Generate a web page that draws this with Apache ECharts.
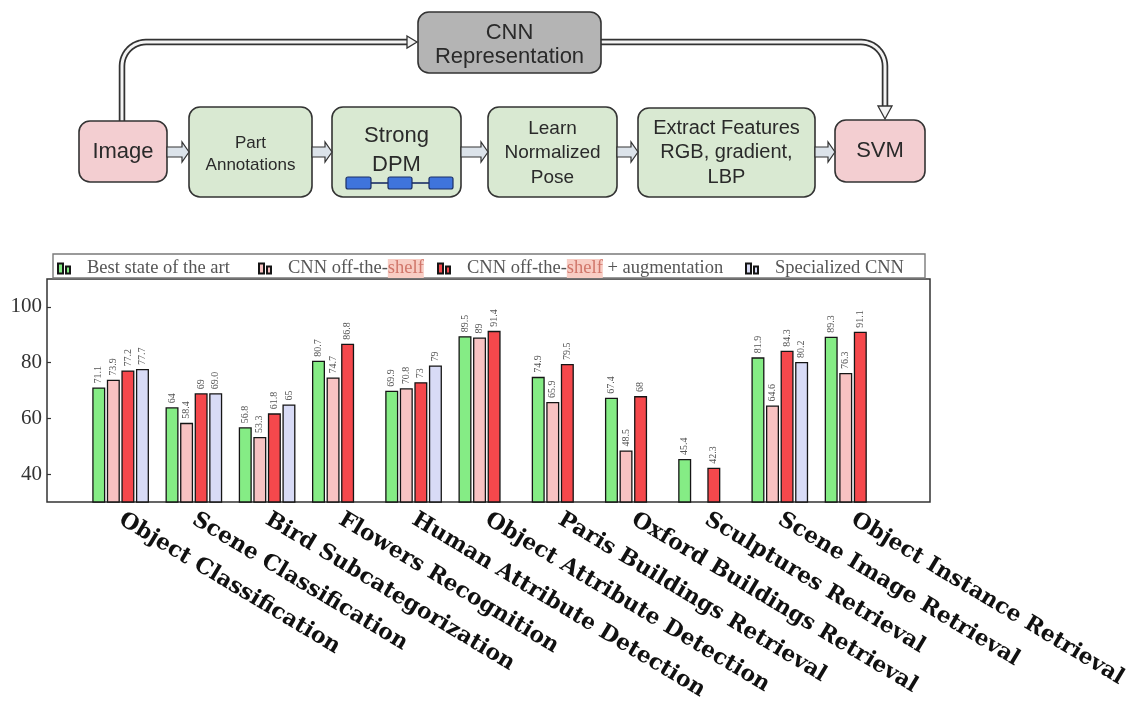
<!DOCTYPE html>
<html>
<head>
<meta charset="utf-8">
<script src="https://cdn.jsdelivr.net/npm/echarts@6/dist/echarts.min.js"></script>
<style>
html, body { margin: 0; padding: 0; background: #ffffff; }
#main { width: 1130px; height: 707px; }
</style>
</head>
<body>
<div id="main"></div>
<script>
// Tasks on the category axis
const categories = [
  'Object Classification', 'Scene Classification', 'Bird Subcategorization',
  'Flowers Recognition', 'Human Attribute Detection', 'Object Attribute Detection',
  'Paris Buildings Retrieval', 'Oxford Buildings Retrieval', 'Sculptures Retrieval',
  'Scene Image Retrieval', 'Object Instance Retrieval'
];

// Series names (legend order)
const seriesNames = [
  'Best state of the art', 'CNN off-the-shelf',
  'CNN off-the-shelf + augmentation', 'Specialized CNN'
];

// Scores per task, written as printed above each bar (null = no result)
const bestStateOfTheArt = ['71.1', '64', '56.8', '80.7', '69.9', '89.5', '74.9', '67.4', '45.4', '81.9', '89.3'];
const cnnOffTheShelf    = ['73.9', '58.4', '53.3', '74.7', '70.8', '89', '65.9', '48.5', null, '64.6', '76.3'];
const cnnAugmented      = ['77.2', '69', '61.8', '86.8', '73', '91.4', '79.5', '68', '42.3', '84.3', '91.1'];
const specializedCnn    = ['77.7', '69.0', '65', null, '79', null, null, null, null, '80.2', null];

// Value axis tick labels
const yTicks = [40, 60, 80, 100];

// Pipeline diagram captions
const pipelineSteps = ['Image', 'Part\nAnnotations', 'Strong\nDPM', 'Learn\nNormalized\nPose', 'Extract Features\nRGB, gradient,\nLBP', 'SVM'];
const shortcutStep = 'CNN\nRepresentation';

const seriesValues = [bestStateOfTheArt, cnnOffTheShelf, cnnAugmented, specializedCnn];
const seriesColors = ['#85ec85', '#f8c2c2', '#f5484c', '#d8dbf6'];

const chart = echarts.init(document.getElementById('main'), null, { renderer: 'canvas' });

// ---------- pipeline diagram (graphic elements) ----------
const INK = '#2a2a2a';
const SANS = '"Liberation Sans", Arial, sans-serif';
const SERIF = '"Liberation Serif", "DejaVu Serif", serif';
const boxStyle = (fill) => ({ fill: fill, stroke: '#333', lineWidth: 1.6 });
const PINK = '#f3ced1', GREEN = '#d9e9d2', GREY = '#b4b4b4';

const stepBoxes = [
  { x: 79,  y: 121, w: 88,  h: 61, fill: PINK,  font: 22, lh: 24 },
  { x: 189, y: 107, w: 123, h: 90, fill: GREEN, font: 17, lh: 22, dy: 2 },
  { x: 332, y: 107, w: 129, h: 90, fill: GREEN, font: 22, lh: 29, dy: -2 },
  { x: 488, y: 107, w: 129, h: 90, fill: GREEN, font: 19, lh: 24.5, dy: 1 },
  { x: 638, y: 108, w: 177, h: 89, fill: GREEN, font: 20, lh: 24.5 },
  { x: 835, y: 120, w: 90,  h: 62, fill: PINK,  font: 22, lh: 24 }
];
const cnnBox = { x: 418, y: 12, w: 183, h: 61 };

const graphics = [];

stepBoxes.forEach((b, i) => {
  graphics.push({
    type: 'rect', z: 10,
    shape: { x: b.x, y: b.y, width: b.w, height: b.h, r: 11 },
    style: boxStyle(b.fill)
  });
  graphics.push({
    type: 'text', z: 11,
    style: {
      text: pipelineSteps[i], x: b.x + b.w / 2, y: b.y + b.h / 2 + (b.dy || 0),
      align: 'center', verticalAlign: 'middle',
      font: b.font + 'px ' + SANS, lineHeight: b.lh, fill: INK
    }
  });
});

// Deformable-part chain inside the DPM box
const chain = [[346, 371], [388, 412], [429, 453]];
chain.forEach((p, i) => {
  graphics.push({
    type: 'rect', z: 12,
    shape: { x: p[0], y: 177, width: p[1] - p[0], height: 12, r: 2 },
    style: { fill: '#3f74dc', stroke: '#1b2f66', lineWidth: 1.2 }
  });
  if (i < chain.length - 1) {
    graphics.push({
      type: 'line', z: 12,
      shape: { x1: p[1], y1: 183, x2: chain[i + 1][0], y2: 183 },
      style: { stroke: '#1b2f66', lineWidth: 1.6 }
    });
  }
});

// Block arrows between consecutive steps
const blockArrow = (x0, x1, cy) => ({
  type: 'polygon', z: 10,
  shape: {
    points: [
      [x0, cy - 5], [x1 - 7, cy - 5], [x1 - 7, cy - 10], [x1, cy],
      [x1 - 7, cy + 10], [x1 - 7, cy + 5], [x0, cy + 5]
    ]
  },
  style: { fill: '#dce3ea', stroke: '#333', lineWidth: 1.2 }
});
for (let i = 0; i < stepBoxes.length - 1; i++) {
  const a = stepBoxes[i], b = stepBoxes[i + 1];
  graphics.push(blockArrow(a.x + a.w, b.x, 152));
}

// CNN representation shortcut box
graphics.push({
  type: 'rect', z: 10,
  shape: { x: cnnBox.x, y: cnnBox.y, width: cnnBox.w, height: cnnBox.h, r: 11 },
  style: boxStyle(GREY)
});
graphics.push({
  type: 'text', z: 11,
  style: {
    text: shortcutStep, x: cnnBox.x + cnnBox.w / 2, y: cnnBox.y + cnnBox.h / 2 + 2,
    align: 'center', verticalAlign: 'middle',
    font: '22px ' + SANS, lineHeight: 24, fill: INK
  }
});

// Rounded-corner routing for the hollow connectors
function cornerPoints(cx, cy, r, a0, a1) {
  const pts = [];
  for (let k = 0; k <= 12; k++) {
    const a = a0 + (a1 - a0) * k / 12;
    pts.push([cx + r * Math.cos(a), cy + r * Math.sin(a)]);
  }
  return pts;
}
const ROUTE_Y = 42, R = 24;
const leftX = 122, rightX = 885;
const leftRoute = [[leftX, 121]]
  .concat(cornerPoints(leftX + R, ROUTE_Y + R, R, Math.PI, 1.5 * Math.PI))
  .concat([[cnnBox.x - 10, ROUTE_Y]]);
const rightRoute = [[cnnBox.x + cnnBox.w, ROUTE_Y]]
  .concat(cornerPoints(rightX - R, ROUTE_Y + R, R, -0.5 * Math.PI, 0))
  .concat([[rightX, 107]]);

[leftRoute, rightRoute].forEach((pts) => {
  graphics.push({ type: 'polyline', z: 9, shape: { points: pts }, style: { stroke: '#333', lineWidth: 6.5, lineJoin: 'round', fill: null } });
  graphics.push({ type: 'polyline', z: 9, shape: { points: pts }, style: { stroke: '#f4f4f4', lineWidth: 3, lineJoin: 'round', fill: null } });
});
graphics.push({
  type: 'polygon', z: 10,
  shape: { points: [[cnnBox.x - 11, ROUTE_Y - 6], [cnnBox.x - 1, ROUTE_Y], [cnnBox.x - 11, ROUTE_Y + 6]] },
  style: { fill: '#f4f4f4', stroke: '#333', lineWidth: 1.3 }
});
graphics.push({
  type: 'polygon', z: 10,
  shape: { points: [[rightX - 7, 106], [rightX, 119], [rightX + 7, 106]] },
  style: { fill: '#f4f4f4', stroke: '#333', lineWidth: 1.3 }
});

// Legend frame
graphics.push({
  type: 'rect', z: 1,
  shape: { x: 53, y: 254, width: 872, height: 24 },
  style: { fill: '#ffffff', stroke: '#7a7a7a', lineWidth: 1.4 }
});

// ---------- bar chart ----------
const legendIcon = 'path://M0,0 L5,0 L5,10 L0,10 Z M8,3 L12,3 L12,10 L8,10 Z';
const legendLefts = [57, 258, 437, 745];

const legends = seriesNames.map((name, i) => ({
  data: [name],
  left: legendLefts[i],
  top: 259,
  padding: 0,
  icon: legendIcon,
  itemWidth: 12,
  itemHeight: 10,
  selectedMode: false,
  formatter: (n) => '{s|}' + n.replace('shelf', '{h|shelf}'),
  textStyle: {
    fontFamily: SERIF,
    fontSize: 18.5,
    color: '#555',
    rich: {
      s: { width: 12 },
      h: { fontFamily: SERIF, fontSize: 18.5, color: '#d0766a', backgroundColor: '#f8cdc4' }
    }
  }
}));

const series = seriesNames.map((name, i) => ({
  type: 'bar',
  name: name,
  xAxisIndex: 1,
  yAxisIndex: 1,
  barWidth: 13,
  barGap: '12%',
  data: seriesValues[i].map((v) => (v === null ? '-' : Number(v))),
  itemStyle: { color: seriesColors[i], borderColor: '#151515', borderWidth: 1.3 },
  label: {
    show: true,
    position: 'top',
    rotate: 90,
    align: 'left',
    verticalAlign: 'middle',
    distance: 4,
    fontSize: 10,
    fontFamily: SERIF,
    color: '#555',
    formatter: (p) => seriesValues[i][p.dataIndex]
  },
  emphasis: { disabled: true }
}));

const option = {
  backgroundColor: '#ffffff',
  animation: false,
  graphic: graphics,
  legend: legends,
  grid: [
    { left: 47, right: 200, top: 279, bottom: 205, show: true, borderColor: '#333', borderWidth: 1.5, backgroundColor: 'transparent' },
    { left: 84, right: 238, top: 279, bottom: 205 }
  ],
  xAxis: [
    { gridIndex: 0, type: 'value', min: 0, max: 1, show: false },
    {
      gridIndex: 1, type: 'category', data: categories,
      axisLine: { show: false }, axisTick: { show: false },
      axisLabel: {
        interval: 0, rotate: -31, margin: 16,
        fontFamily: '"DejaVu Serif", serif', fontWeight: 'bold', fontSize: 22, color: '#111'
      }
    }
  ],
  yAxis: [
    {
      gridIndex: 0, type: 'value', min: 30, max: 110, interval: 10,
      axisLine: { show: false }, splitLine: { show: false },
      axisTick: { show: true, inside: true, length: 4, customValues: yTicks, lineStyle: { color: '#333', width: 1.2 } },
      axisLabel: { customValues: yTicks, fontFamily: SERIF, fontSize: 21, color: '#333', margin: 5 }
    },
    { gridIndex: 1, type: 'value', min: 30, max: 110, show: false }
  ],
  series: series
};

chart.setOption(option);
</script>
</body>
</html>
